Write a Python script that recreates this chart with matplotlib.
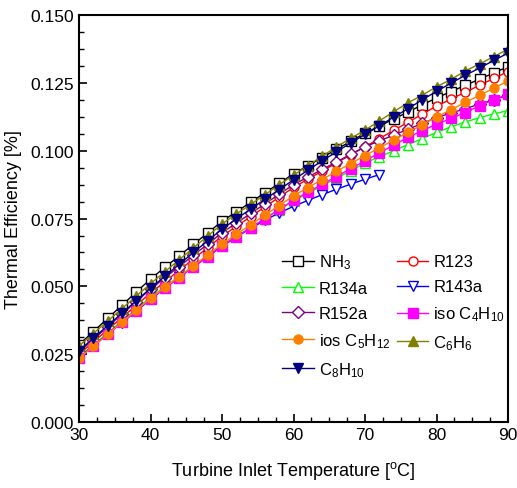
import matplotlib
matplotlib.use("Agg")
import matplotlib.pyplot as plt
from matplotlib.ticker import MultipleLocator, FormatStrFormatter

fam = "Liberation Sans"
plt.rcParams["font.family"] = [fam, "DejaVu Sans"]
plt.rcParams["mathtext.fontset"] = "custom"
plt.rcParams["mathtext.rm"] = fam
plt.rcParams["mathtext.it"] = fam
plt.rcParams["mathtext.bf"] = fam

temps = list(range(30, 91, 2))
temps_r143a = list(range(30, 73, 2))

nh3 = [0.0285, 0.0333, 0.0382, 0.0430, 0.0479, 0.0527, 0.0570, 0.0612, 0.0655, 0.0697,
       0.0740, 0.0775, 0.0810, 0.0845, 0.0880, 0.0915, 0.0945, 0.0975, 0.1005, 0.1035,
       0.1065, 0.1091, 0.1117, 0.1143, 0.1169, 0.1195, 0.1218, 0.1241, 0.1264, 0.1287, 0.1310]
r123 = [0.0250, 0.0295, 0.0340, 0.0385, 0.0430, 0.0475, 0.0517, 0.0559, 0.0601, 0.0643,
        0.0685, 0.0721, 0.0757, 0.0793, 0.0829, 0.0865, 0.0895, 0.0925, 0.0955, 0.0985,
        0.1015, 0.1045, 0.1075, 0.1105, 0.1135, 0.1165, 0.1190, 0.1216, 0.1241, 0.1267, 0.1292]
r134a = [0.0240, 0.0284, 0.0328, 0.0372, 0.0416, 0.0460, 0.0498, 0.0537, 0.0575, 0.0614,
         0.0652, 0.0685, 0.0717, 0.0750, 0.0782, 0.0815, 0.0843, 0.0871, 0.0899, 0.0927,
         0.0955, 0.0978, 0.1000, 0.1023, 0.1045, 0.1068, 0.1088, 0.1106, 0.1122, 0.1136, 0.1148]
r143a = [0.0238, 0.0281, 0.0324, 0.0366, 0.0409, 0.0452, 0.0493, 0.0533, 0.0572, 0.0611,
         0.0648, 0.0682, 0.0714, 0.0744, 0.0771, 0.0795, 0.0817, 0.0838, 0.0858, 0.0877,
         0.0895, 0.0912]
r152a = [0.0258, 0.0304, 0.0351, 0.0397, 0.0444, 0.0490, 0.0532, 0.0573, 0.0615, 0.0656,
         0.0698, 0.0733, 0.0769, 0.0804, 0.0840, 0.0875, 0.0903, 0.0931, 0.0959, 0.0987,
         0.1015, 0.1036, 0.1058, 0.1079, 0.1101, 0.1122, 0.1139, 0.1155, 0.1172, 0.1188, 0.1205]
iso_c4h10 = [0.0235, 0.0279, 0.0323, 0.0367, 0.0411, 0.0455, 0.0494, 0.0532, 0.0571, 0.0609,
             0.0648, 0.0682, 0.0716, 0.0750, 0.0784, 0.0818, 0.0847, 0.0876, 0.0905, 0.0934,
             0.0963, 0.0992, 0.1021, 0.1049, 0.1074, 0.1098, 0.1119, 0.1141, 0.1166, 0.1188, 0.1209]
ios_c5h12 = [0.0235, 0.0279, 0.0323, 0.0368, 0.0412, 0.0456, 0.0496, 0.0536, 0.0576, 0.0616,
             0.0656, 0.0692, 0.0727, 0.0763, 0.0798, 0.0834, 0.0864, 0.0894, 0.0924, 0.0953,
             0.0982, 0.1011, 0.1039, 0.1068, 0.1096, 0.1125, 0.1151, 0.1178, 0.1204, 0.1231, 0.1257]
c6h6 = [0.0280, 0.0326, 0.0372, 0.0418, 0.0464, 0.0510, 0.0554, 0.0598, 0.0642, 0.0686,
        0.0730, 0.0767, 0.0802, 0.0838, 0.0875, 0.0910, 0.0945, 0.0980, 0.1014, 0.1046,
        0.1076, 0.1110, 0.1144, 0.1177, 0.1205, 0.1236, 0.1263, 0.1294, 0.1320, 0.1347, 0.1375]
c8h10 = [0.0263, 0.0309, 0.0355, 0.0401, 0.0447, 0.0493, 0.0537, 0.0581, 0.0625, 0.0668,
         0.0711, 0.0749, 0.0785, 0.0821, 0.0857, 0.0893, 0.0928, 0.0963, 0.0996, 0.1029,
         0.1060, 0.1092, 0.1124, 0.1155, 0.1188, 0.1219, 0.1249, 0.1278, 0.1305, 0.1333, 0.1360]

labels = ["NH$_3$", "R123", "R134a", "R143a", "R152a", "iso C$_4$H$_{10}$",
          "ios C$_5$H$_{12}$", "C$_6$H$_6$", "C$_8$H$_{10}$"]

series = [
    (temps, nh3, "#000000", "s", False),
    (temps, r123, "#ff0000", "o", False),
    (temps, r134a, "#00ff00", "^", False),
    (temps_r143a, r143a, "#0000ff", "v", False),
    (temps, r152a, "#800080", "D", False),
    (temps, iso_c4h10, "#ff00ff", "s", True),
    (temps, ios_c5h12, "#ff8000", "o", True),
    (temps, c6h6, "#808000", "^", True),
    (temps, c8h10, "#000080", "v", True),
]

fig = plt.figure(figsize=(5.17, 4.89), dpi=100)
ax = fig.add_axes([0.1528, 0.135, 0.83, 0.832])

handles = []
for (x, y, c, m, filled), lab in zip(series, labels):
    ms = 5.8 if m == "D" else 6.5
    h, = ax.plot(x, y, color=c, lw=1.0, marker=m, markersize=ms,
                 markerfacecolor=(c if filled else "white"), markeredgecolor=c,
                 markeredgewidth=1.0, label=lab)
    handles.append(h)

order = [0, 2, 4, 6, 8, 1, 3, 5, 7]
leg = ax.legend([handles[i] for i in order], [labels[i] for i in order],
                ncol=2, frameon=False, loc="upper left",
                bbox_to_anchor=(0.465, 0.425), fontsize=12,
                handlelength=1.9, handletextpad=0.3, columnspacing=0.4,
                labelspacing=0.6, borderaxespad=0.0, borderpad=0.2)

ax.set_xlim(30, 90)
ax.set_ylim(0, 0.15)
ax.xaxis.set_major_locator(MultipleLocator(10))
ax.xaxis.set_minor_locator(MultipleLocator(2.5))
ax.yaxis.set_major_locator(MultipleLocator(0.025))
ax.yaxis.set_minor_locator(MultipleLocator(0.00625))
ax.yaxis.set_major_formatter(FormatStrFormatter("%.3f"))
ax.tick_params(which="both", direction="in", top=False, right=False, labelsize=12.5)
ax.tick_params(which="major", length=6, width=1.2)
ax.tick_params(which="minor", length=3.5, width=1.0)
for s in ax.spines.values():
    s.set_linewidth(1.5)

ax.set_xlabel("Turbine Inlet Temperature [$^{\\mathrm{o}}$C]", fontsize=13, labelpad=12)
ax.set_ylabel("Thermal Efficiency [%]", fontsize=13, labelpad=6)

fig.savefig("out.png", dpi=100)
